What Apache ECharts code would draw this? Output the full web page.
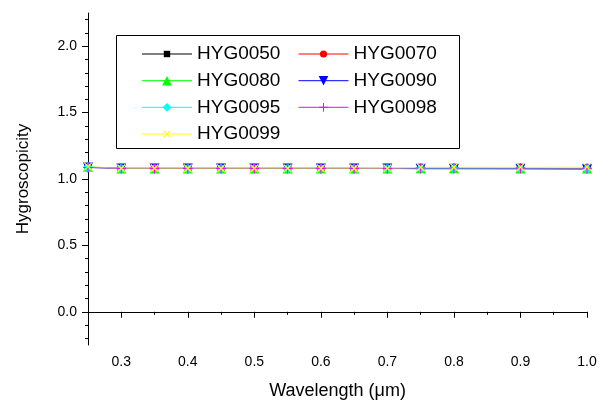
<!DOCTYPE html>
<html>
<head>
<meta charset="utf-8">
<script src="https://cdn.jsdelivr.net/npm/echarts@6/dist/echarts.min.js"></script>
<style>
  html, body { margin: 0; padding: 0; background: #fff; }
  #chart { width: 601px; height: 405px; }
</style>
</head>
<body>
<div id="chart"></div>
<script>
// Hygroscopicity vs. wavelength for seven HYG samples
const wavelength = [0.25, 0.3, 0.35, 0.4, 0.45, 0.5, 0.55, 0.6, 0.65, 0.7, 0.75, 0.8, 0.9, 1.0];

const hyg0050 = [1.088, 1.080, 1.080, 1.080, 1.080, 1.080, 1.080, 1.080, 1.080, 1.080, 1.078, 1.078, 1.077, 1.075];
const hyg0070 = [1.090, 1.080, 1.080, 1.080, 1.080, 1.080, 1.080, 1.080, 1.080, 1.080, 1.079, 1.079, 1.078, 1.077];
const hyg0080 = [1.092, 1.080, 1.080, 1.080, 1.080, 1.080, 1.080, 1.080, 1.080, 1.080, 1.081, 1.081, 1.080, 1.079];
const hyg0090 = [1.086, 1.080, 1.080, 1.080, 1.080, 1.080, 1.080, 1.080, 1.080, 1.079, 1.077, 1.077, 1.077, 1.074];
const hyg0095 = [1.089, 1.080, 1.080, 1.080, 1.080, 1.080, 1.080, 1.080, 1.080, 1.080, 1.079, 1.079, 1.078, 1.076];
const hyg0098 = [1.087, 1.080, 1.080, 1.080, 1.080, 1.080, 1.080, 1.080, 1.080, 1.079, 1.083, 1.083, 1.082, 1.081];
const hyg0099 = [1.094, 1.080, 1.080, 1.080, 1.080, 1.080, 1.080, 1.080, 1.080, 1.080, 1.088, 1.089, 1.089, 1.090];

const seriesNames = ['HYG0050', 'HYG0070', 'HYG0080', 'HYG0090', 'HYG0095', 'HYG0098', 'HYG0099'];
const seriesValues = [hyg0050, hyg0070, hyg0080, hyg0090, hyg0095, hyg0098, hyg0099];

// Axis ticks
const xMajorTicks = [0.3, 0.4, 0.5, 0.6, 0.7, 0.8, 0.9, 1.0];
const xMinorTicks = [0.25, 0.35, 0.45, 0.55, 0.65, 0.75, 0.85, 0.95];
const yMajorTicks = [0.0, 0.5, 1.0, 1.5, 2.0];
const yMinorTicks = [-0.2, -0.1, 0.1, 0.2, 0.3, 0.4, 0.6, 0.7, 0.8, 0.9, 1.1, 1.2, 1.3, 1.4, 1.6, 1.7, 1.8, 1.9, 2.1, 2.2];

// Styling per series
const colors = ['#000000', '#ff0000', '#00ff00', '#0000ff', '#00ffff', '#ff00ff', '#ffff00'];
const lineColors = ['rgba(0,0,0,0.5)', 'rgba(255,0,0,0.5)', 'rgba(0,255,0,0.5)', 'rgba(0,0,255,0.5)',
  'rgba(0,255,255,0.5)', 'rgba(255,0,255,0.5)', 'rgba(255,255,0,0.5)'];
const plusPath = 'path://M4,0h1v9h-1zM0,4h9v1h-9z';
const symbols = ['rect', 'circle', 'triangle', 'triangle', 'diamond', plusPath, plusPath];
const rotations = [0, 0, 0, 180, 0, 0, 45];
const plotSymbolSizes = [7, 8, 10, 10, 10, 10, 11];
const legendIconHeights = [8, 9, 12, 12, 11, 11, 12];

const FONT = '"Liberation Sans", Arial, Helvetica, sans-serif';

const series = seriesNames.map((name, i) => ({
  name: name,
  type: 'line',
  xAxisIndex: 0,
  yAxisIndex: 0,
  data: wavelength.map((w, j) => [w, seriesValues[i][j]]),
  symbol: symbols[i],
  symbolRotate: rotations[i],
  symbolSize: plotSymbolSizes[i],
  showAllSymbol: true,
  lineStyle: { color: lineColors[i], width: 1 },
  itemStyle: { color: colors[i] },
  emphasis: { disabled: true }
}));

// One legend entry per series, laid out in two columns inside a framed box
const legendRowCenters = [54, 80.7, 107.3, 134];
const legendColumnLeft = [141.5, 298];
const legends = seriesNames.map((name, i) => ({
  data: [name],
  left: legendColumnLeft[i % 2],
  top: legendRowCenters[Math.floor(i / 2)] - 10,
  padding: 0,
  itemWidth: 50,
  itemHeight: legendIconHeights[i],
  selectedMode: false,
  lineStyle: { color: colors[i], width: 1 },
  textStyle: { fontFamily: FONT, fontSize: 19, color: '#000', lineHeight: 20 }
}));

const chart = echarts.init(document.getElementById('chart'), null, { renderer: 'canvas' });

chart.setOption({
  animation: false,
  backgroundColor: '#fff',
  grid: { left: 88, right: 14, top: 13, bottom: 55 },
  legend: legends,
  graphic: [{
    type: 'rect',
    shape: { x: 116.5, y: 35.5, width: 343, height: 113 },
    style: { fill: 'rgba(0,0,0,0)', stroke: '#000', lineWidth: 1 },
    z: 100
  }],
  xAxis: [{
    type: 'value',
    min: 0.25,
    max: 1.0,
    name: 'Wavelength (\u03bcm)',
    nameLocation: 'middle',
    nameGap: 37,
    nameTextStyle: { fontFamily: FONT, fontSize: 18, color: '#000' },
    axisLine: { show: true, lineStyle: { color: '#000', width: 1 } },
    axisTick: { show: true, inside: false, length: 6, customValues: xMajorTicks, lineStyle: { color: '#000' } },
    axisLabel: { customValues: xMajorTicks, margin: 10, fontFamily: FONT, fontSize: 14, color: '#000',
      formatter: v => v.toFixed(1) },
    splitLine: { show: false }
  }, {
    type: 'value',
    position: 'bottom',
    min: 0.25,
    max: 1.0,
    axisLine: { show: false },
    axisTick: { show: true, inside: false, length: 3, customValues: xMinorTicks, lineStyle: { color: '#000' } },
    axisLabel: { show: false },
    splitLine: { show: false }
  }],
  yAxis: [{
    type: 'value',
    min: -0.25,
    max: 2.25,
    name: 'Hygroscopicity',
    nameLocation: 'middle',
    nameGap: 56,
    nameTextStyle: { fontFamily: FONT, fontSize: 17, color: '#000' },
    axisLine: { show: true, lineStyle: { color: '#000', width: 1 } },
    axisTick: { show: true, inside: false, length: 6, customValues: yMajorTicks, lineStyle: { color: '#000' } },
    axisLabel: { customValues: yMajorTicks, margin: 11, fontFamily: FONT, fontSize: 14, color: '#000',
      formatter: v => v.toFixed(1) },
    splitLine: { show: false }
  }, {
    type: 'value',
    position: 'left',
    min: -0.25,
    max: 2.25,
    axisLine: { show: false },
    axisTick: { show: true, inside: false, length: 3, customValues: yMinorTicks, lineStyle: { color: '#000' } },
    axisLabel: { show: false },
    splitLine: { show: false }
  }],
  series: series
});
</script>
</body>
</html>
